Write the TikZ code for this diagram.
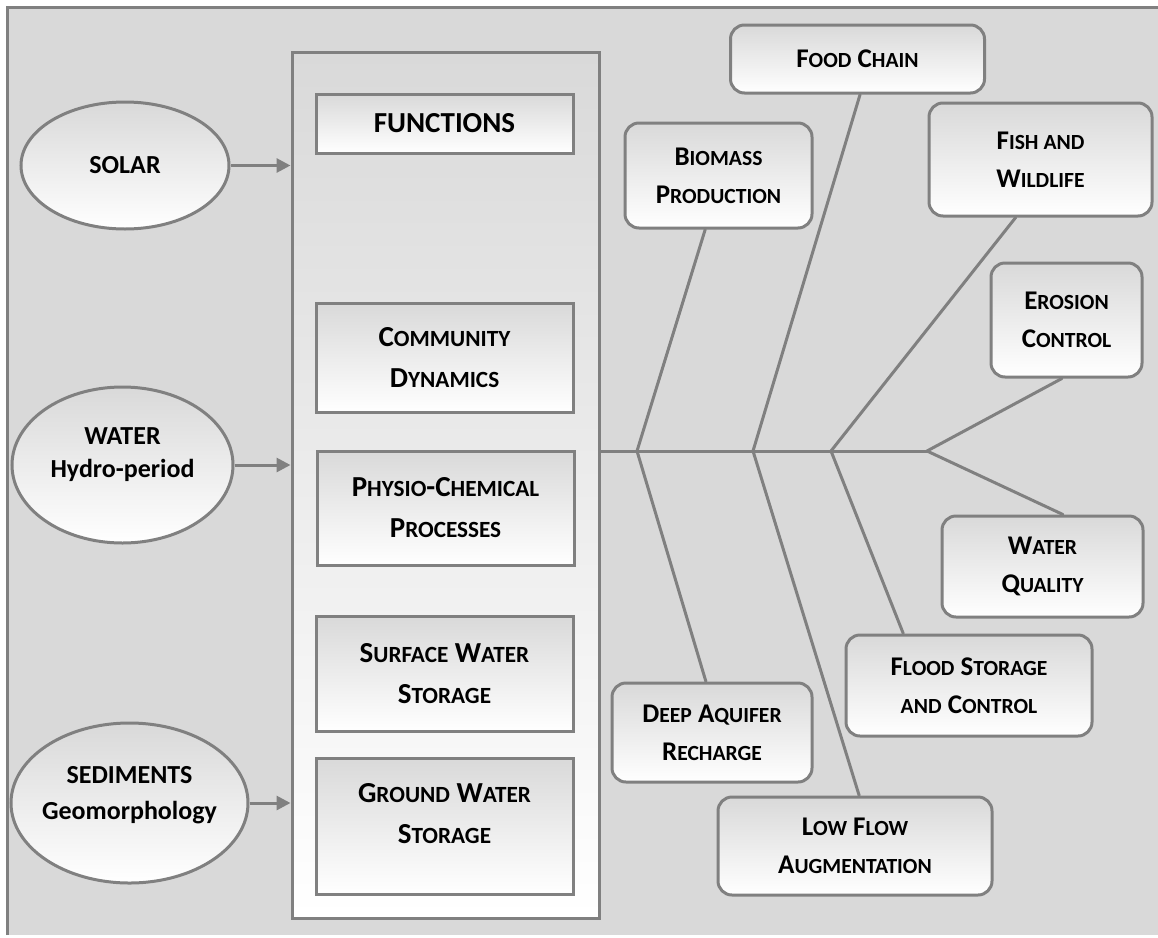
\documentclass[tikz,border=0pt]{standalone}
\usepackage{fontspec}
\setmainfont{Carlito}
\usepackage{xcolor}
\usetikzlibrary{positioning, shapes.geometric, arrows.meta, calc}
\definecolor{edgegray}{HTML}{808080}
\definecolor{panegray}{HTML}{D9D9D9}
\newcommand{\lowcaps}[1]{{\addfontfeature{Scale=0.8}#1}}

\begin{document}
\begin{tikzpicture}[x=1pt, y=-1pt,
	every node/.style={inner sep=0pt, align=center},
	source/.style={ellipse, draw=edgegray, line width=3pt, top color=panegray, bottom color=white},
	srctext/.style={font=\fontsize{26}{33}\selectfont\bfseries},
	functext/.style={font=\fontsize{29}{41}\selectfont\bfseries},
	func/.style={draw=edgegray, line width=3pt, top color=panegray, bottom color=white, minimum width=257pt, functext},
	service/.style={func, rounded corners=14pt, font=\fontsize{27}{38}\selectfont\bfseries},
	bone/.style={draw=edgegray, line width=3pt, line cap=round},
	feed/.style={draw=edgegray, line width=3pt, -{Triangle[length=14pt, width=14pt]}}]
	\useasboundingbox (0,0) rectangle (1158,937);
	\fill[panegray] (7,7) rectangle (1158,935);
	\draw[bone, line cap=butt] (7,935) -- (7,7) -- (1158,7);

	\node[func, minimum width=307pt, minimum height=866pt] (panel) at (445.5,485) {};
	\node[func, minimum height=59pt] (functions) at (444.5,123.5) {FUNCTIONS};
	\node[func, minimum height=109pt] (community) at (444.5,357.5) {C\lowcaps{OMMUNITY}\\D\lowcaps{YNAMICS}};
	\node[func, minimum height=114pt] (physio) at (445.5,508) {P\lowcaps{HYSIO}-C\lowcaps{HEMICAL}\\P\lowcaps{ROCESSES}};
	\node[func, minimum height=115pt] (surface) at (444.5,673.5) {S\lowcaps{URFACE} W\lowcaps{ATER}\\S\lowcaps{TORAGE}};
	\node[func, minimum height=136pt] (ground) at (444.5,826) {};
	\node[functext] (groundtext) at ([yshift=12pt]ground.center) {G\lowcaps{ROUND} W\lowcaps{ATER}\\S\lowcaps{TORAGE}};

	\node[source, srctext, minimum width=208pt, minimum height=127pt] (solar) at (125,165.5) {SOLAR};
	\node[source, minimum width=221pt, minimum height=156pt] (water) at (122.5,465) {};
	\node[srctext] (watertext) at ([yshift=10pt]water.center) {WATER\\Hydro-period};
	\node[source, minimum width=237pt, minimum height=160pt] (sediments) at (129.5,803) {};
	\node[srctext, font=\fontsize{26}{36}\selectfont\bfseries] (sedtext) at ([yshift=8pt]sediments.center) {SEDIMENTS\\Geomorphology};
	\draw[feed] (solar.east) -- (solar.east -| panel.west);
	\draw[feed] (water.east) -- (water.east -| panel.west);
	\draw[feed] (sediments.east) -- (sediments.east -| panel.west);

	\node[service, minimum width=254pt, minimum height=68pt] (food) at (857.5,59) {F\lowcaps{OOD} C\lowcaps{HAIN}};
	\node[service, minimum width=187pt, minimum height=105pt] (biomass) at (718.5,175.5) {B\lowcaps{IOMASS}\\P\lowcaps{RODUCTION}};
	\node[service, minimum width=223pt, minimum height=113pt] (fish) at (1040.5,159.5) {F\lowcaps{ISH AND}\\W\lowcaps{ILDLIFE}};
	\node[service, minimum width=151pt, minimum height=114pt] (erosion) at (1066.5,320) {E\lowcaps{ROSION}\\C\lowcaps{ONTROL}};
	\node[service, minimum width=201pt, minimum height=101pt] (quality) at (1042.5,566.5) {W\lowcaps{ATER}\\Q\lowcaps{UALITY}};
	\node[service, minimum width=246pt, minimum height=101pt] (flood) at (969,685.5) {F\lowcaps{LOOD} S\lowcaps{TORAGE}\\\lowcaps{AND} C\lowcaps{ONTROL}};
	\node[service, minimum width=200pt, minimum height=99pt] (aquifer) at (712,732.5) {D\lowcaps{EEP} A\lowcaps{QUIFER}\\R\lowcaps{ECHARGE}};
	\node[service, minimum width=274pt, minimum height=98pt] (lowflow) at (855,846) {L\lowcaps{OW} F\lowcaps{LOW}\\A\lowcaps{UGMENTATION}};

	\coordinate (j1) at (637,451);
	\coordinate (j2) at (753,451);
	\coordinate (j3) at (831,451);
	\coordinate (fork) at (927,451);
	\draw[bone] (panel.east |- fork) -- (fork);
	\draw[bone] (j1) -- ($(biomass.south west)!0.43!(biomass.south east)$);
	\draw[bone] (j1) -- ($(aquifer.north west)!0.47!(aquifer.north east)$);
	\draw[bone] (j2) -- ($(food.south west)!0.51!(food.south east)$);
	\draw[bone] (j2) -- ($(lowflow.north west)!0.515!(lowflow.north east)$);
	\draw[bone] (j3) -- ($(fish.south west)!0.39!(fish.south east)$);
	\draw[bone] (j3) -- ($(flood.north west)!0.236!(flood.north east)$);
	\draw[bone] (fork) -- ($(erosion.south west)!0.47!(erosion.south east)$);
	\draw[bone] (fork) -- ($(quality.north west)!0.6!(quality.north east)$);
\end{tikzpicture}
\end{document}
